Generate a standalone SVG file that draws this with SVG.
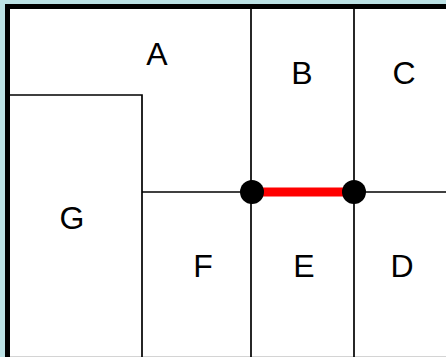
<svg xmlns="http://www.w3.org/2000/svg" width="446" height="357" viewBox="0 0 446 357">
<style>
.ln{stroke:#000;stroke-width:1.7;fill:none}
.lbl{font-family:"Liberation Sans",Arial,sans-serif;font-size:32px;fill:#000;text-anchor:middle}
.pt{fill:#000}
</style>
<rect x="0" y="0" width="446" height="357" fill="#bce2e5"/>
<rect x="10" y="9" width="436" height="347" fill="#fff"/>
<line x1="10" y1="356.5" x2="446" y2="356.5" stroke="#d4d4d4" stroke-width="1"/>
<rect x="5" y="4" width="441" height="5" fill="#000"/>
<rect x="5" y="4" width="5" height="353" fill="#000"/>
<g id="boundaries">
<path class="ln" d="M10 95 H142 V357"/>
<path class="ln" d="M142 192 H446"/>
<path class="ln" d="M251 9 V357"/>
<path class="ln" d="M354 9 V357"/>
</g>
<g id="A"><text class="lbl" x="157" y="65">A</text></g>
<g id="B"><text class="lbl" x="302" y="84">B</text></g>
<g id="C"><text class="lbl" x="404" y="84">C</text></g>
<g id="D"><text class="lbl" x="402" y="277">D</text></g>
<g id="E"><text class="lbl" x="304" y="277">E</text></g>
<g id="F"><text class="lbl" x="203" y="277">F</text></g>
<g id="G"><text class="lbl" x="72" y="229">G</text></g>
<g id="connectors">
<line x1="252" y1="192" x2="354" y2="192" stroke="#f00" stroke-width="9"/>
<circle class="pt" cx="252" cy="192" r="12"/>
<circle class="pt" cx="354" cy="192" r="12"/>
</g>
</svg>
